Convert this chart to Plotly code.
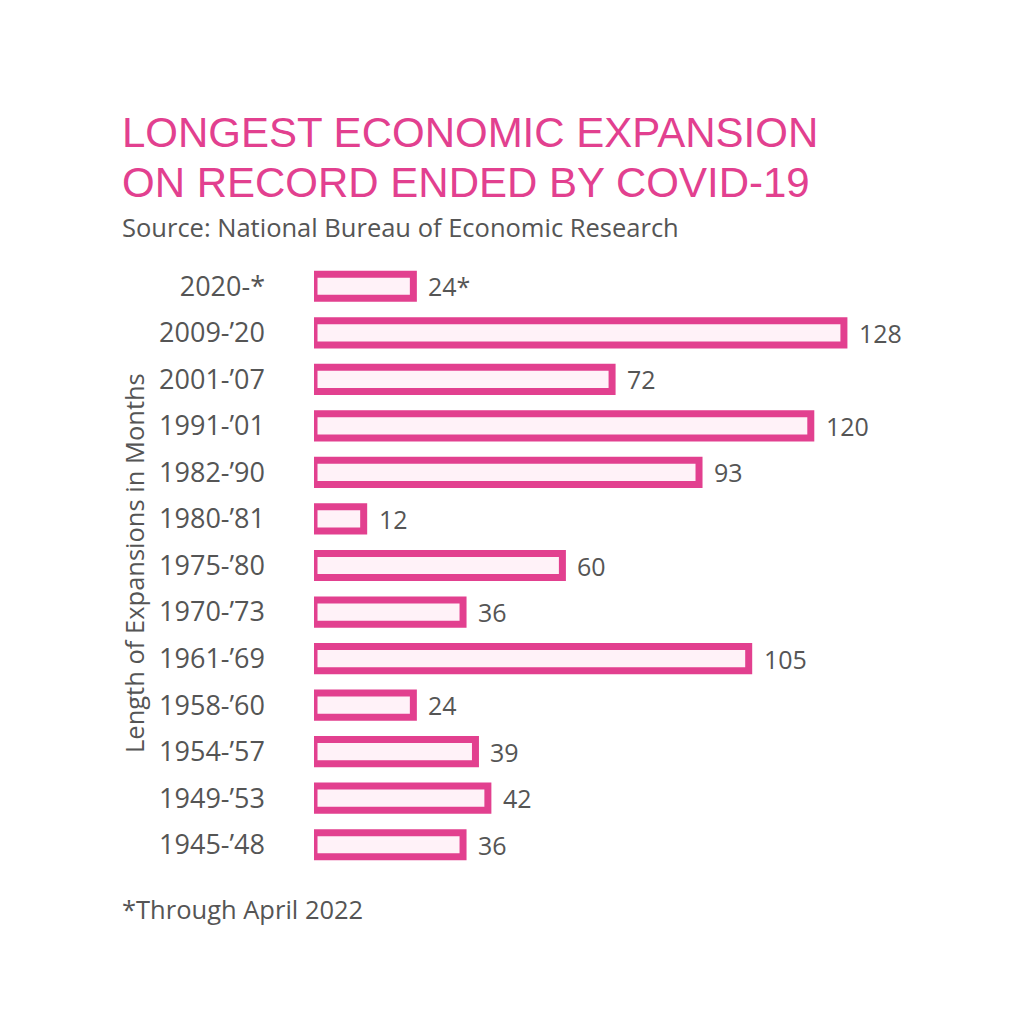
import plotly.graph_objects as go

periods = ["2020-*", "2009-’20", "2001-’07", "1991-’01", "1982-’90", "1980-’81", "1975-’80",
           "1970-’73", "1961-’69", "1958-’60", "1954-’57", "1949-’53", "1945-’48"]
months = [24, 128, 72, 120, 93, 12, 60, 36, 105, 24, 39, 42, 36]
value_labels = ["24*", "128", "72", "120", "93", "12", "60", "36", "105", "24", "39", "42", "36"]

PINK = "#E2408F"
FILL = "#FFF2F8"
GREY = "#555555"
FONT = "Open Sans"
TFONT = "Liberation Sans"

L, R_ = 314, 89
T, B = 263, 156
W = 1024 - L - R_
H = 1024 - T - B

def px_x(px):
    return (px - L) / W

def px_y(py):
    return (1024 - B - py) / H

ypos = list(range(len(periods)))

fig = go.Figure()
fig.add_trace(go.Bar(
    x=months, y=ypos, orientation="h", width=0.52,
    marker=dict(color=FILL, line=dict(color=PINK, width=7)),
    hoverinfo="skip",
))

annotations = []
for v, yy, lab in zip(months, ypos, value_labels):
    annotations.append(dict(x=v, y=yy, xref="x", yref="y", text=lab, showarrow=False,
                            xanchor="left", yanchor="middle", xshift=13,
                            font=dict(family=FONT, size=25, color=GREY)))

annotations += [
    dict(x=px_x(120), y=px_y(132), xref="paper", yref="paper", xanchor="left", yanchor="middle",
         text="LONGEST ECONOMIC EXPANSION", showarrow=False,
         font=dict(family=TFONT, size=42, color=PINK)),
    dict(x=px_x(120), y=px_y(182), xref="paper", yref="paper", xanchor="left", yanchor="middle",
         text="ON RECORD ENDED BY COVID-19", showarrow=False,
         font=dict(family=TFONT, size=42, color=PINK)),
    dict(x=px_x(120), y=px_y(227), xref="paper", yref="paper", xanchor="left", yanchor="middle",
         text="Source: National Bureau of Economic Research", showarrow=False,
         font=dict(family=FONT, size=25.5, color=GREY)),
    dict(x=px_x(120), y=px_y(909), xref="paper", yref="paper", xanchor="left", yanchor="middle",
         text="*Through April 2022", showarrow=False,
         font=dict(family=FONT, size=25.5, color=GREY)),
    dict(x=px_x(134), y=px_y(563), xref="paper", yref="paper", xanchor="center", yanchor="middle",
         text="Length of Expansions in Months", showarrow=False, textangle=-90,
         font=dict(family=FONT, size=25.5, color=GREY)),
]

fig.update_layout(
    width=1024, height=1024,
    margin=dict(l=L, r=R_, t=T, b=B),
    paper_bgcolor="white", plot_bgcolor="white",
    showlegend=False,
    annotations=annotations,
    xaxis=dict(range=[0, 150], visible=False, showgrid=False, zeroline=False),
    yaxis=dict(range=[12.5, -0.5], tickmode="array", tickvals=ypos, ticktext=periods,
               showgrid=False, zeroline=False, showline=False, ticks="",
               ticklabelstandoff=48,
               tickfont=dict(family=FONT, size=27, color=GREY)),
)

fig.write_html("out.html")
